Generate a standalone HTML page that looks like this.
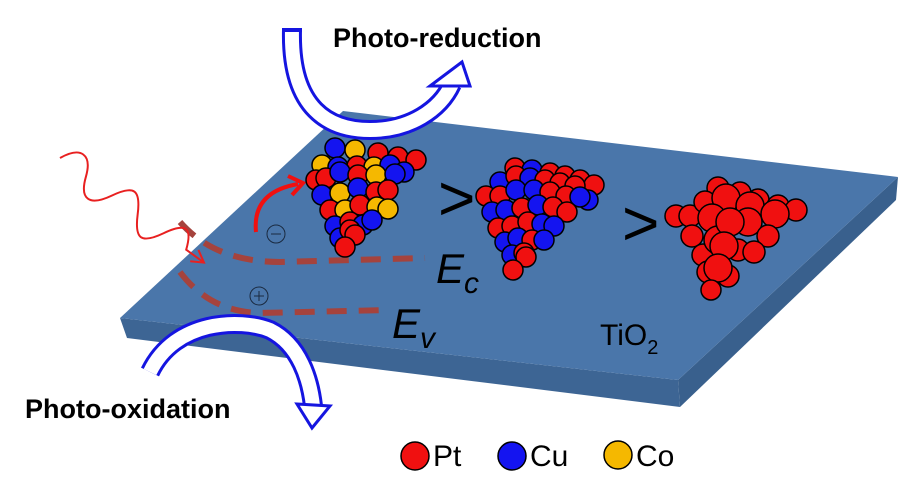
<!DOCTYPE html>
<html><head><meta charset="utf-8"><style>
body{margin:0;background:#fff}
svg{display:block}
text{font-family:"Liberation Sans","DejaVu Sans",sans-serif}
</style></head><body>
<svg width="906" height="498" viewBox="0 0 906 498" xmlns="http://www.w3.org/2000/svg">
<!-- plate -->
<polygon points="120,318 127,338 680,407 678,380" fill="#3d6594"/>
<polygon points="678,380 680,407 896,200 898,177" fill="#39608d"/>
<polygon points="120,318 343,111 898,177 678,380" fill="#4a76aa"/>

<!-- dashed band lines -->
<path d="M180,222 Q215,262 280,262 L425,258" fill="none" stroke="#a5433d" stroke-width="6" stroke-dasharray="20,12"/>
<path d="M180,272 Q210,312 260,313 L388,310" fill="none" stroke="#a5433d" stroke-width="6" stroke-dasharray="20,12"/>

<!-- wave -->
<g transform="translate(60,158) rotate(36)">
<path d="M0,0 C10,-22 24,-22 32,0 S52,22 64,0 S84,-22 96,0 S116,22 128,0 S148,-22 156,0 L178,0" fill="none" stroke="#e82020" stroke-width="2"/>
<path d="M166,-7 L178,0 L166,7" fill="none" stroke="#e82020" stroke-width="2"/>
</g>

<!-- electron arrow -->
<path d="M256,232 Q252,192 298,184" fill="none" stroke="#f01010" stroke-width="4"/>
<path d="M288,176 L303,183 L292,195" fill="none" stroke="#f01010" stroke-width="4"/>
<circle cx="276" cy="234" r="9" fill="none" stroke="#1a2a40" stroke-width="1"/>
<line x1="271" y1="234" x2="281" y2="234" stroke="#1a2a40" stroke-width="1"/>
<circle cx="259" cy="296" r="9" fill="none" stroke="#1a2a40" stroke-width="1"/>
<line x1="254" y1="296" x2="264" y2="296" stroke="#1a2a40" stroke-width="1"/>
<line x1="259" y1="291" x2="259" y2="301" stroke="#1a2a40" stroke-width="1"/>

<!-- top block arrow -->
<path d="M292,30 C290,110 330,130 370,130 C410,130 440,110 452,84" fill="none" stroke="#1515e0" stroke-width="20"/>
<path d="M292,30 C290,110 330,130 370,130 C410,130 440,110 452,84" fill="none" stroke="#fff" stroke-width="14"/>
<rect x="282" y="28" width="20" height="4" fill="#1515e0"/>
<polygon points="430,86 462,62 470,86" fill="#fff" stroke="#1515e0" stroke-width="3"/>

<!-- bottom block arrow -->
<path d="M150,372 C175,320 240,318 270,330 C300,345 310,380 313,406" fill="none" stroke="#1515e0" stroke-width="20"/>
<path d="M150,372 C175,320 240,318 270,330 C300,345 310,380 313,406" fill="none" stroke="#fff" stroke-width="14"/>
<polygon points="297,404 330,406 312,428" fill="#fff" stroke="#1515e0" stroke-width="3"/>

<text x="333" y="47" font-size="27" font-weight="bold" fill="#000">Photo-reduction</text>
<text x="25" y="418" font-size="27" font-weight="bold" fill="#000">Photo-oxidation</text>

<g stroke="#000" stroke-width="1.5">
<!-- cluster 1 -->
<circle cx="335" cy="148" r="10" fill="#1414f0"/><circle cx="355" cy="150" r="10" fill="#f5b800"/><circle cx="378" cy="153" r="10" fill="#f01010"/><circle cx="398" cy="157" r="10" fill="#f01010"/><circle cx="416" cy="160" r="10" fill="#f01010"/>
<circle cx="322" cy="165" r="10" fill="#f5b800"/><circle cx="338" cy="167" r="10" fill="#1414f0"/><circle cx="357" cy="166" r="10" fill="#f01010"/><circle cx="374" cy="167" r="10" fill="#f5b800"/><circle cx="390" cy="165" r="10" fill="#1414f0"/><circle cx="404" cy="172" r="10" fill="#1414f0"/>
<circle cx="316" cy="180" r="10" fill="#f01010"/><circle cx="326" cy="178" r="10" fill="#f01010"/><circle cx="340" cy="172" r="10" fill="#1414f0"/><circle cx="358" cy="175" r="10" fill="#f01010"/><circle cx="376" cy="175" r="10" fill="#f5b800"/><circle cx="395" cy="174" r="10" fill="#1414f0"/>
<circle cx="322" cy="195" r="10" fill="#1414f0"/><circle cx="340" cy="193" r="10" fill="#f5b800"/><circle cx="358" cy="188" r="10" fill="#1414f0"/><circle cx="376" cy="192" r="10" fill="#f01010"/><circle cx="388" cy="190" r="10" fill="#f01010"/>
<circle cx="330" cy="210" r="10" fill="#f01010"/><circle cx="345" cy="210" r="10" fill="#f5b800"/><circle cx="360" cy="205" r="10" fill="#f01010"/><circle cx="377" cy="207" r="10" fill="#f5b800"/><circle cx="388" cy="209" r="10" fill="#f5b800"/>
<circle cx="335" cy="226" r="10" fill="#1414f0"/><circle cx="350" cy="222" r="10" fill="#f01010"/><circle cx="363" cy="225" r="10" fill="#1414f0"/><circle cx="372" cy="220" r="10" fill="#1414f0"/>
<circle cx="340" cy="238" r="10" fill="#1414f0"/><circle cx="350" cy="230" r="10" fill="#f01010"/><circle cx="355" cy="235" r="10" fill="#f01010"/>
<circle cx="345" cy="247" r="10" fill="#f01010"/>
<!-- cluster 2 -->
<circle cx="515" cy="168" r="10" fill="#f01010"/><circle cx="532" cy="170" r="10" fill="#1414f0"/><circle cx="550" cy="173" r="10" fill="#f01010"/><circle cx="565" cy="176" r="10" fill="#f01010"/><circle cx="580" cy="180" r="10" fill="#f01010"/><circle cx="594" cy="185" r="10" fill="#f01010"/>
<circle cx="500" cy="182" r="10" fill="#1414f0"/><circle cx="516" cy="176" r="10" fill="#f01010"/><circle cx="530" cy="178" r="10" fill="#1414f0"/><circle cx="545" cy="180" r="10" fill="#f01010"/><circle cx="560" cy="183" r="10" fill="#f01010"/><circle cx="575" cy="186" r="10" fill="#f01010"/><circle cx="588" cy="200" r="10" fill="#1414f0"/>
<circle cx="486" cy="196" r="10" fill="#f01010"/><circle cx="500" cy="196" r="10" fill="#f01010"/><circle cx="516" cy="190" r="10" fill="#1414f0"/><circle cx="534" cy="190" r="10" fill="#1414f0"/><circle cx="550" cy="192" r="10" fill="#f01010"/><circle cx="566" cy="196" r="10" fill="#f01010"/><circle cx="580" cy="197" r="10" fill="#1414f0"/>
<circle cx="492" cy="212" r="10" fill="#1414f0"/><circle cx="506" cy="210" r="10" fill="#1414f0"/><circle cx="522" cy="208" r="10" fill="#f01010"/><circle cx="538" cy="205" r="10" fill="#1414f0"/><circle cx="553" cy="207" r="10" fill="#f01010"/><circle cx="567" cy="212" r="10" fill="#f01010"/>
<circle cx="498" cy="228" r="10" fill="#f01010"/><circle cx="512" cy="226" r="10" fill="#f01010"/><circle cx="528" cy="222" r="10" fill="#f01010"/><circle cx="542" cy="224" r="10" fill="#1414f0"/><circle cx="554" cy="226" r="10" fill="#1414f0"/>
<circle cx="505" cy="242" r="10" fill="#1414f0"/><circle cx="518" cy="238" r="10" fill="#1414f0"/><circle cx="532" cy="240" r="10" fill="#f01010"/><circle cx="544" cy="240" r="10" fill="#1414f0"/>
<circle cx="512" cy="255" r="10" fill="#1414f0"/><circle cx="524" cy="253" r="10" fill="#f01010"/><circle cx="526" cy="257" r="10" fill="#f01010"/>
<circle cx="513" cy="270" r="10" fill="#f01010"/>
<!-- cluster 3 -->
<circle cx="718" cy="188" r="11" fill="#f01010"/><circle cx="740" cy="193" r="11" fill="#f01010"/><circle cx="758" cy="200" r="11" fill="#f01010"/><circle cx="778" cy="206" r="11" fill="#f01010"/><circle cx="796" cy="210" r="11" fill="#f01010"/>
<circle cx="676" cy="216" r="11" fill="#f01010"/><circle cx="690" cy="216" r="11" fill="#f01010"/><circle cx="705" cy="202" r="11" fill="#f01010"/><circle cx="726" cy="198" r="14" fill="#f01010"/><circle cx="750" cy="206" r="14" fill="#f01010"/><circle cx="775" cy="214" r="14" fill="#f01010"/>
<circle cx="692" cy="236" r="11" fill="#f01010"/><circle cx="712" cy="218" r="14" fill="#f01010"/><circle cx="748" cy="222" r="14" fill="#f01010"/><circle cx="768" cy="236" r="11" fill="#f01010"/>
<circle cx="703" cy="255" r="11" fill="#f01010"/><circle cx="738" cy="250" r="11" fill="#f01010"/><circle cx="754" cy="252" r="11" fill="#f01010"/><circle cx="718" cy="240" r="14" fill="#f01010"/><circle cx="730" cy="222" r="14" fill="#f01010"/>
<circle cx="708" cy="272" r="11" fill="#f01010"/><circle cx="728" cy="276" r="11" fill="#f01010"/><circle cx="724" cy="246" r="14" fill="#f01010"/>
<circle cx="718" cy="268" r="14" fill="#f01010"/>
<circle cx="711" cy="290" r="10" fill="#f01010"/>
</g>

<text x="438" y="220" font-size="64" fill="#000">&gt;</text>
<text x="622" y="245" font-size="64" fill="#000">&gt;</text>

<text x="436" y="283" font-size="42" font-style="italic" fill="#000">E<tspan font-size="30" dy="10">c</tspan></text>
<text x="392" y="338" font-size="42" font-style="italic" fill="#000">E<tspan font-size="30" dy="10">v</tspan></text>
<text x="600" y="345" font-size="30" fill="#000">TiO<tspan font-size="20" dy="9">2</tspan></text>

<g stroke="#000" stroke-width="1.5">
<circle cx="415" cy="456" r="14" fill="#f01010"/>
<circle cx="512" cy="456" r="14" fill="#1414f0"/>
<circle cx="618" cy="455" r="14" fill="#f5b800"/>
</g>
<text x="433" y="466" font-size="30" fill="#000">Pt</text>
<text x="530" y="466" font-size="30" fill="#000">Cu</text>
<text x="636" y="466" font-size="30" fill="#000">Co</text>
</svg>
</body></html>
